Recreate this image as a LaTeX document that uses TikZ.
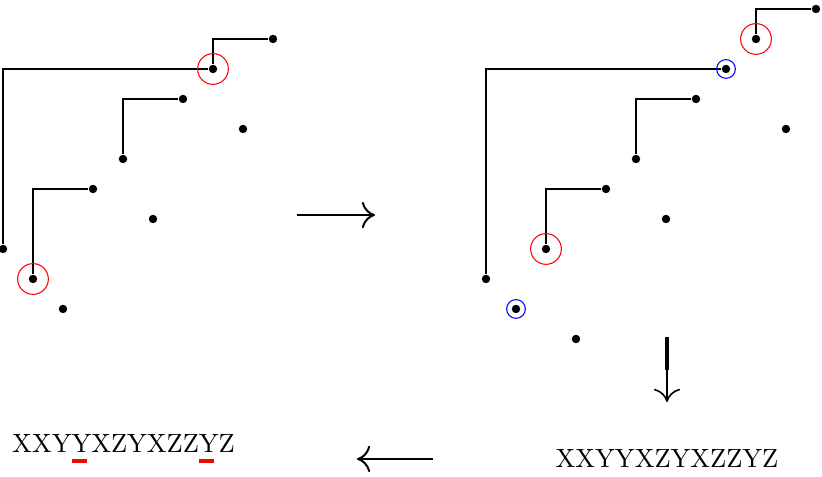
\documentclass[tikz,border=0pt]{standalone}
\usetikzlibrary{arrows.meta}
\newcommand\hitY[1]{\rlap{\hspace{0.2pt}\color{red}\rule[-3.8pt]{5.7pt}{1.4pt}}#1}

\begin{document}
\begin{tikzpicture}[>={Computer Modern Rightarrow[length=5pt,width=10pt]},line width=0.4pt]
\tikzset{dot/.style = {circle,fill,inner sep=0pt,
                       minimum size=3.2pt},
         redring/.style = {draw=red,circle,inner sep=0pt,minimum size=0.41cm},
         bluering/.style = {draw=blue,circle,inner sep=0pt,minimum size=0.25cm},
         bigarrow/.style = {->,line width=0.75pt}}
\useasboundingbox (-0.04,-2.227) rectangle (10.92,4.12);
% first sequence
\begin{scope}[x=0.4cm,y=0.4cm]
\node[dot] (a0) at (0,2) {};  \node[dot] (a1) at (1,1) {};
\node[dot] (a2) at (2,0) {};  \node[dot] (a3) at (3,4) {};
\node[dot] (a4) at (4,5) {};  \node[dot] (a5) at (5,3) {};
\node[dot] (a6) at (6,7) {};  \node[dot] (a7) at (7,8) {};
\node[dot] (a8) at (8,6) {};  \node[dot] (a9) at (9,9) {};
\draw (a0) |- (a7); \draw (a1) |- (a3);
\draw (a4) |- (a6); \draw (a7) |- (a9);
\node[redring] (ra1) at (a1) {}; \node[redring] (ra7) at (a7) {};
\end{scope}
% second sequence
\begin{scope}[shift={(6.44cm,-0.4cm)},x=0.4cm,y=0.4cm]
\node[dot] (b0) at (0,2) {};  \node[dot] (b1) at (1,1) {};
\node[dot] (b2) at (2,3) {};  \node[dot] (b3) at (3,0) {};
\node[dot] (b4) at (4,5) {};  \node[dot] (b5) at (5,6) {};
\node[dot] (b6) at (6,4) {};  \node[dot] (b7) at (7,8) {};
\node[dot] (b8) at (8,9) {};  \node[dot] (b9) at (9,10) {};
\node[dot] (b10) at (10,7) {}; \node[dot] (b11) at (11,11) {};
\draw (b0) |- (b8); \draw (b2) |- (b4);
\draw (b5) |- (b7); \draw (b9) |- (b11);
\node[redring] (rb2) at (b2) {}; \node[redring] (rb9) at (b9) {};
\node[bluering] (bb1) at (b1) {}; \node[bluering] (bb8) at (b8) {};
\end{scope}
% words
\node[anchor=base,inner sep=0pt] (wleft) at (1.607,-1.92) {XXY\hitY{Y}XZYXZZ\hitY{Y}Z};
\node[anchor=base,inner sep=0pt] (wright) at (8.853,-2.12) {XXYYXZYXZZYZ};
% steps
\coordinate (s1) at (3.92,1.253); \coordinate (t1) at (4.96,1.253);
\coordinate (s2) at (8.853,-0.373); \coordinate (m2) at (8.853,-0.813);
\coordinate (t2) at (8.853,-1.24);
\coordinate (s3) at (5.73,-2.0); \coordinate (t3) at (4.72,-2.0);
\draw[bigarrow] (s1) -- (t1);
\draw[line width=1.6pt] (s2) -- (m2);
\draw[bigarrow,line width=0.6pt] (s2) -- (t2);
\draw[bigarrow] (s3) -- (t3);
\end{tikzpicture}
\end{document}
